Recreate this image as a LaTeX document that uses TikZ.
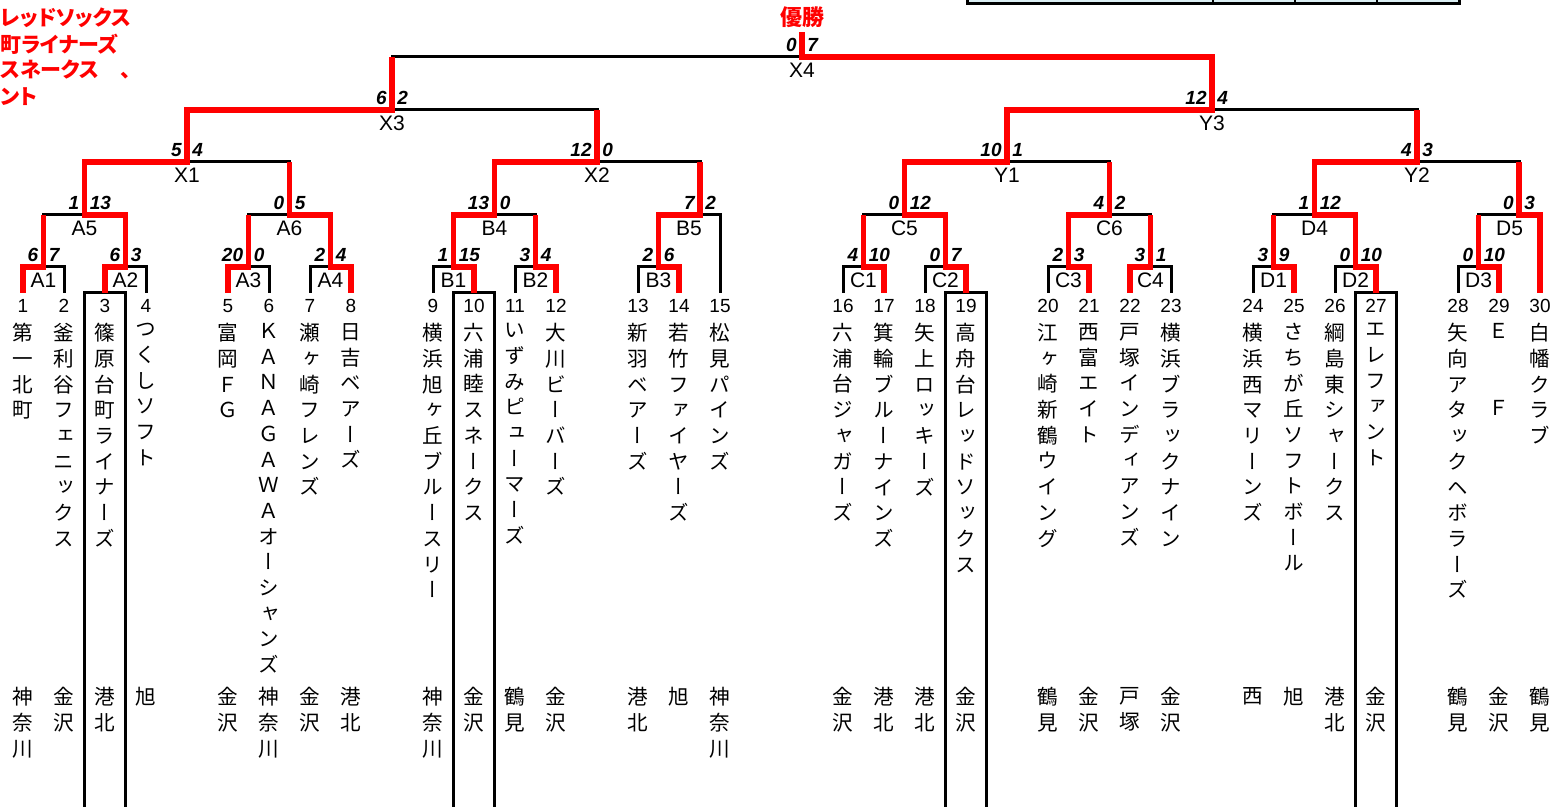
\documentclass[tikz,border=0pt]{standalone}
\usepackage{fontspec}
\setmainfont{Liberation Sans}
\newfontfamily\jpfont[RawFeature=+palt]{Noto Sans CJK JP}
\newfontfamily\tatefont[RawFeature=+vert]{Noto Sans CJK JP}
\usetikzlibrary{calc}
\definecolor{winred}{RGB}{255,0,0}
\definecolor{tablecyan}{RGB}{218,238,243}

% one character per line, for the upright team names
\ExplSyntaxOn
\cs_new_protected:Npn \tate #1
  {
    \tl_set:Nx \l_tmpa_tl {#1}
    \tl_map_inline:Nn \l_tmpa_tl { ##1 \par }
  }
\ExplSyntaxOff

\begin{document}
\begin{tikzpicture}[
    x=0.5pt,y=-0.5pt,
    bracket/.style={line width=1.5pt},
    win/.style={winred,line width=2.7pt},
    teamno/.style={font=\fontsize{9.5}{10}\selectfont,inner sep=0pt},
    tatebox/.style={anchor=north,inner sep=0pt,text width=14pt,align=center,font=\tatefont\fontsize{10.3}{12.85}\selectfont},
    lbl/.style={font=\fontsize{10.5}{12}\selectfont,inner sep=0pt},
    score/.style={font=\bfseries\itshape\fontsize{9.5}{10}\selectfont,inner sep=0pt},
    redtxt/.style={winred,font=\jpfont\bfseries\fontsize{10.5}{12}\selectfont,inner sep=0pt}
]
    \useasboundingbox (0,0) rectangle (1554,807);

    % table edge at the top right
    \fill[tablecyan] (967,0) rectangle (1459,4);
    \draw[bracket] (967,0) |- (1459,4) -- (1459,0);
    \foreach \x in {1213,1295,1377} \draw[line width=0.75pt] (\x,0) -- (\x,4);

    % notes in red, top left
    \node[redtxt,anchor=west] (note1) at (0,18) {レッドソックス};
    \node[redtxt,anchor=west] (note2) at (0,44) {町ライナーズ};
    \node[redtxt,anchor=west] (note3) at (0,70) {スネークス　、};
    \node[redtxt,anchor=west] (note4) at (0,97) {ント};

    % teams: number / column / name / area
    \foreach \i/\k/\nm/\ar in {
        1/0/第一北町/神奈川, 2/1/釜利谷フェニックス/金沢, 3/2/篠原台町ライナーズ/港北, 4/3/つくしソフト/旭,
        5/5/富岡ＦＧ/金沢, 6/6/ＫＡＮＡＧＡＷＡオーシャンズ/神奈川, 7/7/瀬ヶ崎フレンズ/金沢, 8/8/日吉ベアーズ/港北,
        9/10/横浜旭ヶ丘ブルースリー/神奈川, 10/11/六浦睦スネークス/金沢, 11/12/いずみピューマーズ/鶴見, 12/13/大川ビーバーズ/金沢,
        13/15/新羽ベアーズ/港北, 14/16/若竹ファイヤーズ/旭, 15/17/松見パインズ/神奈川,
        16/20/六浦台ジャガーズ/金沢, 17/21/箕輪ブルーナインズ/港北, 18/22/矢上ロッキーズ/港北, 19/23/高舟台レッドソックス/金沢,
        20/25/江ヶ崎新鶴ウイング/鶴見, 21/26/西富エイト/金沢, 22/27/戸塚インディアンズ/戸塚, 23/28/横浜ブラックナイン/金沢,
        24/30/横浜西マリーンズ/西, 25/31/さちが丘ソフトボール/旭, 26/32/綱島東シャークス/港北, 27/33/エレファント/金沢,
        28/35/矢向アタックヘボラーズ/鶴見, 29/36/Ｅ　　Ｆ/金沢, 30/37/白幡クラブ/鶴見}{
        \coordinate (t\i) at (23+41*\k,293);
        \node[teamno] (no\i) at (23+41*\k,306) {\i};
        \node[tatebox] (nm\i) at (23+41*\k,323) {\tate{\nm}};
        \node[tatebox] (ar\i) at (23+41*\k,687) {\tate{\ar}};
    }

    % matches: name / x / y / label x / left score / right score
    \foreach \m/\x/\y/\lx/\sa/\sb in {
        A1/43.5/267/43.5/6/7, A2/125.5/267/125.5/6/3, A3/248.5/267/248.5/20/0, A4/330.5/267/330.5/2/4,
        B1/453.5/267/453.5/1/15, B2/535.5/267/535.5/3/4, B3/658.5/267/658.5/2/6,
        C1/863.5/267/863.5/4/10, C2/945.5/267/945.5/0/7, C3/1068.5/267/1068.5/2/3, C4/1150.5/267/1150.5/3/1,
        D1/1273.5/267/1273.5/3/9, D2/1355.5/267/1355.5/0/10, D3/1478.5/267/1478.5/0/10,
        A5/84.5/215/84.5/1/13, A6/289.5/215/289.5/0/5, B4/494.5/215/494.5/13/0, B5/700/215/689/7/2,
        C5/904.5/215/904.5/0/12, C6/1109.5/215/1109.5/4/2, D4/1314.5/215/1314.5/1/12, D5/1519/215/1509.5/0/3,
        X1/187/162/187/5/4, X2/597/162/597/12/0, Y1/1007/162/1007/10/1, Y2/1417/162/1417/4/3,
        X3/392/110/392/6/2, Y3/1212/110/1212/12/4, X4/802/57/802/0/7}{
        \coordinate (\m) at (\x,\y);
        \node[lbl] (lb\m) at (\lx,\y+13) {\m};
        \node[score,anchor=east] (sa\m) at (\x-5,\y-12) {\sa};
        \node[score,anchor=west] (sb\m) at (\x+5,\y-12) {\sb};
    }

    % bracket lines
    \foreach \l/\m/\r in {t1/A1/t2, t3/A2/t4, t5/A3/t6, t7/A4/t8, t9/B1/t10, t11/B2/t12, t13/B3/t14,
        t16/C1/t17, t18/C2/t19, t20/C3/t21, t22/C4/t23, t24/D1/t25, t26/D2/t27, t28/D3/t29,
        A1/A5/A2, A3/A6/A4, B1/B4/B2, B3/B5/t15, C1/C5/C2, C3/C6/C4, D1/D4/D2, D3/D5/t30,
        A5/X1/A6, B4/X2/B5, C5/Y1/C6, D4/Y2/D5, X1/X3/X2, Y1/Y3/Y2, X3/X4/Y3}
        \draw[bracket] (\l) |- (\m) -| (\r);

    % boxed columns
    \foreach \t in {t3,t10,t19,t27}
        \draw[bracket] ([xshift=-10.25pt]\t) ++(0,514) -- ++(0,-514) -- ++(41,0) -- ++(0,514);

    % winners' paths
    \coordinate (top) at (802,32);
    \node[redtxt,font=\jpfont\bfseries\fontsize{11}{12}\selectfont] (champ) at (802,17) {優勝};
    \draw[win] (t19) |- (C2) |- (C5) |- (Y1) |- (Y3) |- (X4) -- (top);
    \draw[win] (t3) |- (A2) |- (A5) |- (X1) |- (X3) -- (X3 |- X4);
    \draw[win] (t1) |- (A1) -- (A1 |- A5);
    \draw[win] (t5) |- (A3) -- (A3 |- A6);
    \draw[win] (t8) |- (A4) |- (A6) -- (A6 |- X1);
    \draw[win] (t10) |- (B1) |- (B4) |- (X2) -- (X2 |- X3);
    \draw[win] (t12) |- (B2) -- (B2 |- B4);
    \draw[win] (t14) |- (B3) |- (B5) -- (B5 |- X2);
    \draw[win] (t17) |- (C1) -- (C1 |- C5);
    \draw[win] (t21) |- (C3) |- (C6) -- (C6 |- Y1);
    \draw[win] (t22) |- (C4) -- (C4 |- C6);
    \draw[win] (t25) |- (D1) -- (D1 |- D4);
    \draw[win] (t27) |- (D2) |- (D4) |- (Y2) -- (Y2 |- Y3);
    \draw[win] (t29) |- (D3) -- (D3 |- D5);
    \draw[win] (t30) |- (D5) -- (D5 |- Y2);
\end{tikzpicture}
\end{document}
